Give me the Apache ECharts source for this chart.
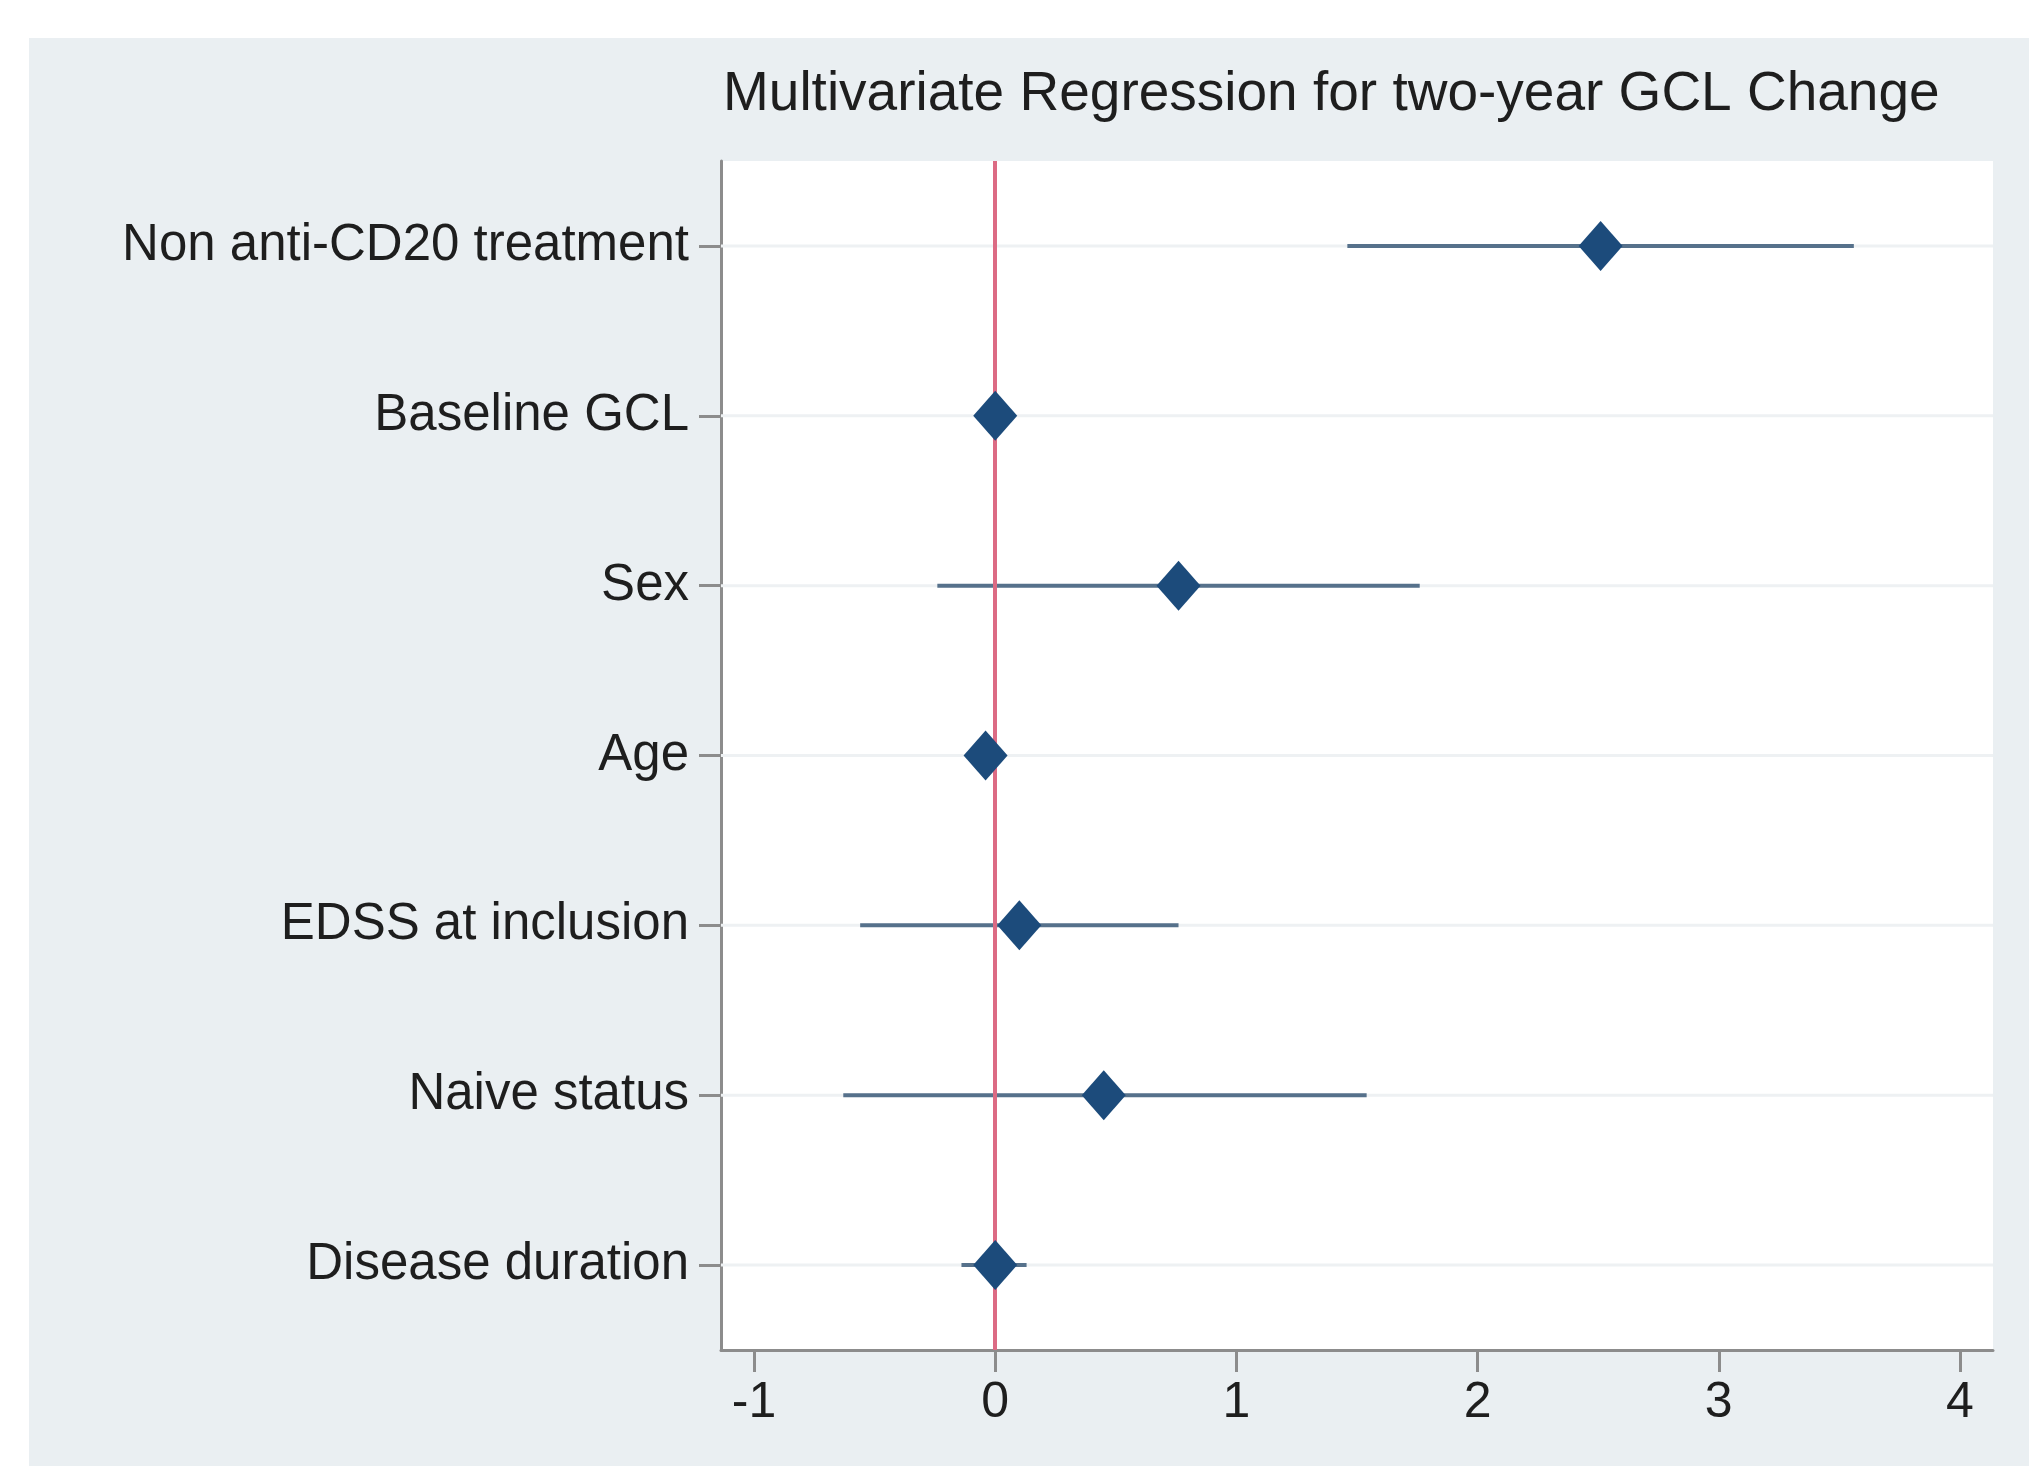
<!DOCTYPE html>
<html>
<head>
<meta charset="utf-8">
<script src="https://cdn.jsdelivr.net/npm/echarts@6/dist/echarts.min.js"></script>
<style>
html, body { margin: 0; padding: 0; background: #fff; }
#main { width: 2029px; height: 1466px; }
</style>
</head>
<body>
<div id="main"></div>
<script>
// 回归结果数据
var covariates = ['Non anti-CD20 treatment', 'Baseline GCL', 'Sex', 'Age', 'EDSS at inclusion', 'Naive status', 'Disease duration'];
var coefs = [2.51, 0.0, 0.76, -0.04, 0.10, 0.45, 0.0];
var ciLow = [1.46, -0.02, -0.24, -0.07, -0.56, -0.63, -0.14];
var ciHigh = [3.56, 0.02, 1.76, -0.01, 0.76, 1.54, 0.13];
var xTicks = [-1, 0, 1, 2, 3, 4];

var myChart = echarts.init(document.getElementById('main'));

var ciData = [];
var pointData = [];
for (var i = 0; i < covariates.length; i++) {
    ciData.push([ciLow[i], ciHigh[i], i]);
    pointData.push([coefs[i], i]);
}

var textFont = 'Liberation Sans, Arial, sans-serif';

var option = {
    backgroundColor: '#fff',
    animation: false,
    graphic: [
        {
            type: 'rect',
            z: -10,
            shape: {x: 29, y: 38, width: 2029 - 29, height: 1466 - 38},
            style: {fill: '#eaeff2'}
        }
    ],
    title: {
        text: 'Multivariate Regression for two-year GCL Change',
        left: 718,
        top: 62,
        textStyle: {
            fontFamily: textFont,
            fontSize: 55,
            fontWeight: 'normal',
            color: '#1e1e1e'
        }
    },
    grid: {
        left: 721,
        right: 36,
        top: 161,
        bottom: 116,
        show: true,
        backgroundColor: '#ffffff',
        borderWidth: 0
    },
    xAxis: {
        type: 'value',
        min: -1.137,
        max: 4.137,
        splitLine: {show: false},
        axisLine: {show: true, lineStyle: {color: '#8c8c8c', width: 3}},
        axisTick: {show: true, customValues: xTicks, length: 22, lineStyle: {color: '#8c8c8c', width: 3}},
        axisLabel: {
            customValues: xTicks,
            margin: 28,
            fontFamily: textFont,
            fontSize: 50,
            color: '#1e1e1e'
        }
    },
    yAxis: {
        type: 'category',
        data: covariates,
        inverse: true,
        boundaryGap: true,
        axisLine: {show: true, onZero: false, lineStyle: {color: '#8c8c8c', width: 3}},
        axisTick: {show: true, alignWithLabel: true, length: 22, lineStyle: {color: '#8c8c8c', width: 3}},
        splitLine: {show: false},
        axisLabel: {
            margin: 32,
            fontFamily: textFont,
            fontSize: 51,
            color: '#1e1e1e'
        }
    },
    series: [
        {
            // 置信区间
            type: 'custom',
            z: 2,
            data: ciData,
            renderItem: function (params, api) {
                var row = api.value(2);
                var p1 = api.coord([api.value(0), row]);
                var p2 = api.coord([api.value(1), row]);
                var cs = params.coordSys;
                return {
                    type: 'group',
                    children: [
                        {
                            type: 'line',
                            shape: {x1: cs.x, y1: p1[1], x2: cs.x + cs.width, y2: p1[1]},
                            style: {stroke: '#eef1f3', lineWidth: 3}
                        },
                        {
                            type: 'line',
                            shape: {x1: p1[0], y1: p1[1], x2: p2[0], y2: p2[1]},
                            style: {stroke: '#56718b', lineWidth: 4}
                        }
                    ]
                };
            },
            markLine: {
                silent: true,
                symbol: ['none', 'none'],
                label: {show: false},
                lineStyle: {color: '#dc6b84', width: 4, type: 'solid'},
                data: [{xAxis: 0}]
            }
        },
        {
            type: 'scatter',
            z: 5,
            symbol: 'diamond',
            symbolSize: [44, 50],
            itemStyle: {color: '#1c4b7b', opacity: 1},
            data: pointData
        }
    ]
};

myChart.setOption(option);
</script>
</body>
</html>
